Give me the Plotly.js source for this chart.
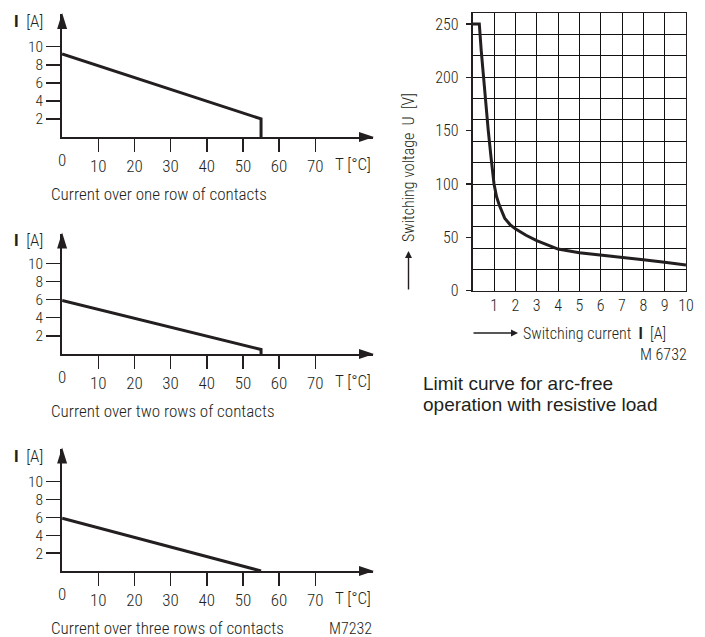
<!DOCTYPE html>
<html>
<head>
<meta charset="utf-8">
<script src="https://cdn.plot.ly/plotly-3.0.1.min.js"></script>
<style>
html,body{margin:0;padding:0;background:#fff;}
#chart text{font-stretch:condensed;}
</style>
</head>
<body>
<div id="chart" style="width:705px;height:637px;"></div>
<script>
// ---- data ----
const tempTicks = [10, 20, 30, 40, 50, 60, 70];
const currentTicks = [2, 4, 6, 8, 10];
const oneRowT = [0, 55, 55];
const oneRowI = [9.2, 2.0, 0];
const twoRowsT = [0, 55, 55];
const twoRowsI = [5.9, 0.5, 0];
const threeRowsT = [0, 55];
const threeRowsI = [5.9, 0];
const captions = ["Current over one row of contacts", "Current over two rows of contacts", "Current over three rows of contacts"];

const switchCurrent = [0, 0.31, 0.4, 0.5, 0.62, 0.73, 0.86, 1.0, 1.12, 1.25, 1.5, 1.75, 2.0, 2.5, 3, 3.5, 4, 5, 6, 7, 8, 9, 10];
const switchVoltage = [250, 250, 225, 200, 175, 150, 125, 100, 88, 80, 68, 62, 58, 52, 47, 43, 39, 35.5, 33.5, 31.3, 29.1, 26.6, 24];
const currentTicksR = [1, 2, 3, 4, 5, 6, 7, 8, 9, 10];
const voltageTicks = [0, 50, 100, 150, 200, 250];
const voltageGrid = [20, 40, 60, 80, 100, 120, 140, 160, 180, 200, 220, 240];

// ---- helpers ----
const W = 705, H = 637;
const INK = '#231f20';
const NARROW = '"Roboto Condensed", "Liberation Sans Narrow", "DejaVu Sans Condensed", Roboto, sans-serif';
const WT = 300;
const px = v => v / W;
const py = v => 1 - v / H;
const nf = size => ({family: NARROW, size: size, color: INK, weight: WT});

const small = [
  {t: oneRowT, i: oneRowI, axisY: 137, topY: 14, scale: 9.03},
  {t: twoRowsT, i: twoRowsI, axisY: 354, topY: 233.5, scale: 9.07},
  {t: threeRowsT, i: threeRowsI, axisY: 571, topY: 448.5, scale: 8.93}
];
const xLeft = 62.1, xRight = 373, xScale = 3.617;
const xMax = (xRight - xLeft) / xScale;

const data = [];
const layout = {
  width: W, height: H,
  margin: {l: 0, r: 0, t: 0, b: 0},
  paper_bgcolor: '#fff', plot_bgcolor: 'rgba(0,0,0,0)',
  showlegend: false,
  font: {family: NARROW, color: INK, size: 17},
  annotations: [], shapes: []
};

small.forEach((c, k) => {
  const n = k + 1;
  const xa = 'xaxis' + n, ya = 'yaxis' + n;
  const yMax = (c.axisY - c.topY) / c.scale;
  data.push({x: c.t, y: c.i, xaxis: 'x' + n, yaxis: 'y' + n, mode: 'lines',
    line: {color: INK, width: 3}, hoverinfo: 'skip', cliponaxis: false});
  layout[xa] = {domain: [px(xLeft), px(xRight)], range: [0, xMax], anchor: 'y' + n,
    showline: true, linewidth: 2, linecolor: INK, zeroline: false, showgrid: false,
    tickmode: 'array', tickvals: tempTicks, ticks: 'outside', ticklen: 13, tickwidth: 1.5, tickcolor: INK,
    tickfont: nf(17), fixedrange: true};
  layout[ya] = {domain: [py(c.axisY), py(c.topY)], range: [0, yMax], anchor: 'x' + n,
    showline: true, linewidth: 2, linecolor: INK, zeroline: false, showgrid: false,
    tickmode: 'array', tickvals: currentTicks, ticks: 'outside', ticklen: 14, tickwidth: 1.5, tickcolor: INK,
    tickfont: nf(15.5), fixedrange: true};
  // arrow heads (paper-referenced so they are not clipped)
  layout.shapes.push({type: 'path', xref: 'paper', yref: 'paper', xsizemode: 'pixel', ysizemode: 'pixel',
    xanchor: px(xRight), yanchor: py(c.axisY), path: 'M1,0 L-14,5 L-14,-5 Z', fillcolor: INK, line: {width: 0}});
  layout.shapes.push({type: 'path', xref: 'paper', yref: 'paper', xsizemode: 'pixel', ysizemode: 'pixel',
    xanchor: px(xLeft), yanchor: py(c.topY), path: 'M0,1 L-5,-15 L5,-15 Z', fillcolor: INK, line: {width: 0}});
  // texts
  const ann = (text, x, y, xanchor, size) => layout.annotations.push({text, xref: 'paper', yref: 'paper',
    x: px(x), y: py(y), xanchor: xanchor, yanchor: 'middle', showarrow: false, font: nf(size || 17)});
  ann('<b>I</b>\u00a0\u00a0[A]', 12, c.topY + 7, 'left', 17);
  ann('0', xLeft, c.axisY + 23, 'center', 17);
  ann('T [°C]', 353, c.axisY + 27, 'center', 17);
  ann(captions[k], 49, c.axisY + 57, 'left', 17);
});
layout.annotations.push({text: 'M7232', xref: 'paper', yref: 'paper', x: px(374), y: py(628),
  xanchor: 'right', yanchor: 'middle', showarrow: false, font: nf(16)});

// ---- right chart ----
const rL = 472.7, rR = 686, rB = 290.7, rT = 13.3;
data.push({x: switchCurrent, y: switchVoltage, xaxis: 'x4', yaxis: 'y4', mode: 'lines',
  line: {color: INK, width: 3}, hoverinfo: 'skip'});
layout.xaxis4 = {domain: [px(rL), px(rR)], range: [0, 10], anchor: 'y4',
  showline: true, mirror: true, linewidth: 1.4, linecolor: INK, zeroline: false,
  showgrid: true, gridcolor: '#111', gridwidth: 1,
  tickmode: 'array', tickvals: currentTicksR, ticks: '', tickfont: nf(16), fixedrange: true};
// grid axis (every 20 V)
layout.yaxis4 = {domain: [py(rB), py(rT)], range: [0, 260], anchor: 'x4',
  showline: true, mirror: true, linewidth: 1.4, linecolor: INK, zeroline: false,
  showgrid: true, gridcolor: '#111', gridwidth: 1,
  tickmode: 'array', tickvals: voltageGrid, ticks: '', showticklabels: false, fixedrange: true};
// label axis (every 50 V)
layout.yaxis5 = {overlaying: 'y4', anchor: 'x4', side: 'left', range: [0, 260],
  showline: false, zeroline: false, showgrid: false,
  tickmode: 'array', tickvals: voltageTicks, ticks: 'outside', ticklen: 6, tickwidth: 1.3, tickcolor: INK,
  ticklabelstandoff: 4, tickfont: nf(16), fixedrange: true};
data.push({x: [0], y: [0], xaxis: 'x4', yaxis: 'y5', mode: 'markers', marker: {opacity: 0}, hoverinfo: 'skip'});

layout.annotations.push(
  {text: 'Switching voltage\u00a0\u00a0U\u00a0\u00a0[V]', xref: 'paper', yref: 'paper', x: px(408), y: py(167),
   xanchor: 'center', yanchor: 'middle', textangle: -90, showarrow: false, font: nf(16)},
  {text: '', xref: 'paper', yref: 'paper', x: px(408.5), y: py(251), showarrow: true, ax: 0, ay: 40,
   arrowhead: 2, arrowsize: 1, arrowwidth: 1.4, arrowcolor: INK},
  {text: '', xref: 'paper', yref: 'paper', x: px(518), y: py(333), showarrow: true, ax: -46, ay: 0,
   arrowhead: 2, arrowsize: 1, arrowwidth: 1.4, arrowcolor: INK},
  {text: 'Switching current\u00a0\u00a0<b>I</b>\u00a0\u00a0[A]', xref: 'paper', yref: 'paper', x: px(521), y: py(333),
   xanchor: 'left', yanchor: 'middle', showarrow: false, font: nf(16)},
  {text: 'M 6732', xref: 'paper', yref: 'paper', x: px(689), y: py(354),
   xanchor: 'right', yanchor: 'middle', showarrow: false, font: nf(16)},
  {text: 'Limit curve for arc-free', xref: 'paper', yref: 'paper', x: px(421), y: py(383),
   xanchor: 'left', yanchor: 'middle', showarrow: false, font: {family: '"Liberation Sans", Arial, sans-serif', size: 19, color: INK}},
  {text: 'operation with resistive load', xref: 'paper', yref: 'paper', x: px(421), y: py(405),
   xanchor: 'left', yanchor: 'middle', showarrow: false, font: {family: '"Liberation Sans", Arial, sans-serif', size: 19, color: INK}}
);

Plotly.newPlot('chart', data, layout, {staticPlot: true, displayModeBar: false});
</script>
</body>
</html>
